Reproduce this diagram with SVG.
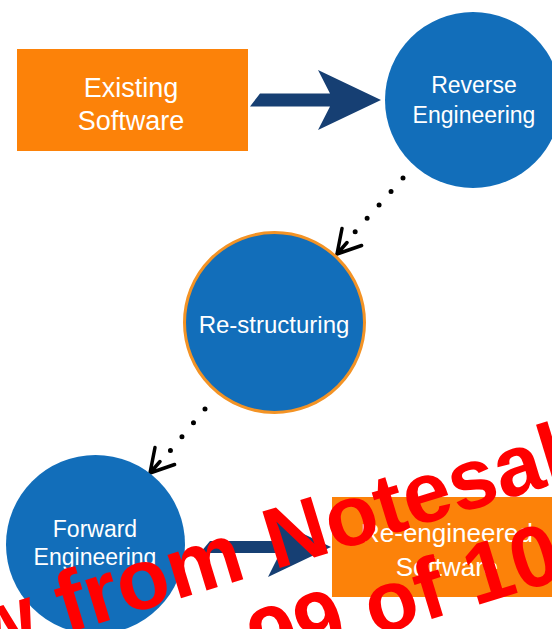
<svg xmlns="http://www.w3.org/2000/svg" width="552" height="629" viewBox="0 0 552 629">
  <style>
    .box { fill: #FC8209; }
    .circ { fill: #126EBA; }
    .lbl { font-family: "Liberation Sans", Arial, sans-serif; fill: #FFFFFF; text-anchor: middle; }
    .big { font-size: 27px; }
    .mid { font-size: 23px; }
    .fat { fill: #163F73; }
    .dots { fill: none; stroke: #000000; stroke-width: 5; stroke-linecap: round; stroke-dasharray: 0 18; }
    .head { fill: none; stroke: #000000; stroke-width: 3.5; stroke-linecap: round; stroke-linejoin: round; }
    .wm { font-family: "Liberation Sans", Arial, sans-serif; font-weight: bold; font-size: 86px; fill: #FF0000; }
  </style>
  <rect width="552" height="629" fill="#FFFFFF"/>

  <g id="connectors">
    <polygon class="fat" points="260,93.5 330,93.5 318,70 381,100 318,130 330,106.5 250,106.5"/>
    <path class="dots" d="M403,178 L355,232"/>
    <path class="head" d="M342,228.5 L337,254 L361.6,245.5 M337,254 L347,242.5"/>
    <path class="dots" d="M205,409 L170,451"/>
    <path class="head" d="M155,447.5 L150,473 L174.6,464.5 M150,473 L160,461.5"/>
    <polygon class="fat" points="210,541 280,541 268,517 331,547 268,577 280,553 200,553"/>
  </g>

  <g id="existing-software">
    <rect class="box" x="17" y="49" width="231" height="102"/>
    <text class="lbl big" x="131" y="97">Existing</text>
    <text class="lbl big" x="131" y="130">Software</text>
  </g>

  <g id="reverse-engineering">
    <circle class="circ" cx="473" cy="100" r="88"/>
    <text class="lbl mid" x="474" y="93">Reverse</text>
    <text class="lbl mid" x="474" y="123">Engineering</text>
  </g>

  <g id="re-structuring">
    <circle class="circ" cx="274.5" cy="322.5" r="90" stroke="#F39325" stroke-width="3"/>
    <text class="lbl" x="274" y="333" font-size="24">Re-structuring</text>
  </g>

  <g id="forward-engineering">
    <circle class="circ" cx="95.5" cy="544.5" r="89.5"/>
    <text class="lbl mid" x="95" y="537">Forward</text>
    <text class="lbl mid" x="95" y="565">Engineering</text>
  </g>

  <g id="re-engineered-software">
    <rect class="box" x="332" y="497" width="231" height="100"/>
    <text class="lbl" x="447" y="542" font-size="26">Re-engineered</text>
    <text class="lbl" x="447" y="576" font-size="26">Software</text>
  </g>

  <g id="watermark" transform="translate(280,568) rotate(-17)">
    <text class="wm" x="-33" y="0" text-anchor="end">w from</text>
    <text class="wm" x="-6" y="0">Notesale</text>
    <text class="wm" x="-50" y="93">99 of 10</text>
  </g>
</svg>
